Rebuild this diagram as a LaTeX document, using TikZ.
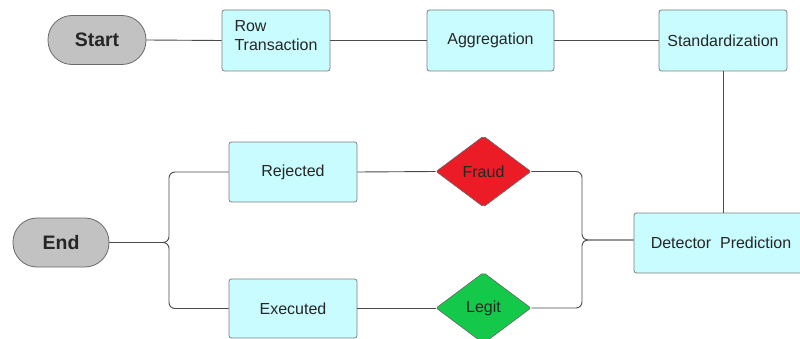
\documentclass[tikz,border=0pt]{standalone}
\usepackage{fontspec}
\setmainfont{Liberation Sans}
\usetikzlibrary{shapes.geometric}
\definecolor{boxfill}{HTML}{C9FCFF}
\definecolor{boxline}{HTML}{7F7F7F}
\definecolor{termfill}{HTML}{C2C2C2}
\definecolor{termline}{HTML}{6A6A6A}
\definecolor{wire}{HTML}{4A4A4A}
\definecolor{fraudred}{HTML}{EC1C26}
\definecolor{legitgreen}{HTML}{14C94A}
\begin{document}
\begin{tikzpicture}[x=1pt,y=-1pt,
  every node/.style={font=\fontsize{16}{19}\selectfont, text=black!85},
  box/.style={draw=boxline, fill=boxfill, line width=0.8pt, rounded corners=2.5pt,
    inner sep=0pt, minimum width=128pt, minimum height=61pt},
  term/.style={draw=termline, fill=termfill, line width=0.8pt, rounded corners=24pt,
    inner sep=0pt, minimum height=49pt, font=\fontsize{19.5}{22}\selectfont\bfseries},
  decision/.style={diamond, draw=black!60, line width=0.6pt, rounded corners=2pt,
    inner sep=0pt, minimum width=95pt, minimum height=71pt},
  wire/.style={draw=wire, line width=0.9pt},
  brace/.style={wire, rounded corners=6pt}]
\useasboundingbox (0,0) rectangle (800,339);

% top row
\node[term, minimum width=98pt] (start) at (97,40) {Start};
\node[box, minimum width=108pt] (row) at (276,40.5) {};
\node[anchor=west, align=left] (rowtxt) at (231,35.5) {Row\\Transaction};
\node[box, minimum width=127pt] (agg) at (490.5,40.5) {Aggregation};
\node[box] (std) at (723,40.5) {Standardization};

% prediction
\node[box, minimum width=174pt, minimum height=60pt] (det) at (721,243) {Detector\ \ Prediction};

% decisions
\node[decision, fill=fraudred] (fraud) at (483.5,171.5) {Fraud};
\node[decision, fill=legitgreen] (legit) at (483.5,308) {Legit};

% outcomes
\node[box, minimum height=60pt] (rej) at (293,172) {Rejected};
\node[box, minimum height=59pt] (exe) at (293,308.5) {Executed};
\node[term, minimum width=96pt] (end) at (61,242.5) {End};

% brace junctions
\coordinate (rbrace) at (582,240);
\coordinate (lbrace) at (169,242.5);

% wires
\draw[wire] (start.east) -- (row.west);
\draw[wire] (row.east) -- (agg.west);
\draw[wire] (agg.east) -- (std.west);
\draw[wire] (std.south) -- (std.south |- det.north);
\draw[brace] (fraud.east) -| (rbrace) -- (rbrace -| det.west);
\draw[brace] (legit.east) -| (rbrace) -- (rbrace -| det.west);
\draw[wire] (rej.east) -- (fraud.west);
\draw[wire] (exe.east) -- (exe.east -| legit.west);
\draw[brace] (rej.west) -| (lbrace) -- (end.east);
\draw[brace] (exe.west) -| (lbrace) -- (end.east);
\end{tikzpicture}
\end{document}
